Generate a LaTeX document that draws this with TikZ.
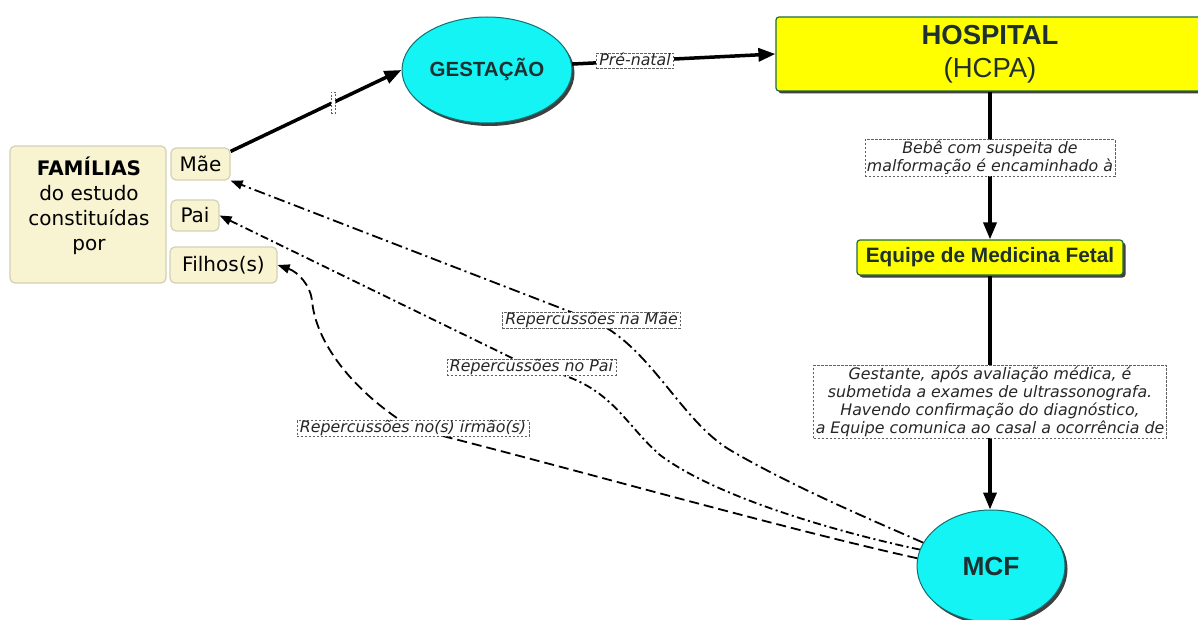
\documentclass[tikz,border=0pt]{standalone}
\usepackage{fontspec}
\setmainfont{DejaVu Sans}
\newfontfamily\arialf{Liberation Sans}
\usetikzlibrary{arrows.meta,shapes.geometric,shadows}
\definecolor{cream}{HTML}{F8F4D2}
\definecolor{creamline}{HTML}{D4D0B4}
\definecolor{cyanfill}{HTML}{14F4F4}
\definecolor{tealline}{HTML}{127070}
\definecolor{yel}{HTML}{FFFF00}
\definecolor{greenline}{HTML}{1F6B3F}
\definecolor{darktxt}{HTML}{1E3030}
\definecolor{lblline}{HTML}{606060}
\tikzset{
  famnode/.style={rectangle, draw=creamline, fill=cream, rounded corners=5pt, line width=1.2pt, inner sep=0pt},
  famtxt/.style={font=\fontsize{20}{25}\selectfont, align=center, inner sep=0pt},
  member/.style={famnode, font=\fontsize{20}{24}\selectfont, text=black},
  ovalnode/.style={ellipse, draw=tealline, fill=cyanfill, line width=1pt, inner sep=0pt, text=darktxt,
     drop shadow={shadow xshift=2.5pt, shadow yshift=-3pt, fill=black!75, opacity=1}},
  yelbox/.style={rectangle, rounded corners=3pt, draw=greenline, fill=yel, line width=1.2pt, inner sep=0pt, text=darktxt,
     drop shadow={shadow xshift=2.5pt, shadow yshift=-2.5pt, fill=black!75, opacity=1}},
  lbl/.style={draw=lblline, dash pattern=on 2.5pt off 1.5pt, fill=white, line width=0.6pt,
     font=\itshape\fontsize{15.8}{18}\selectfont, text=black!85, inner xsep=3pt, inner ysep=0.5pt, text height=11.5pt, text depth=3.2pt},
  lblm/.style={draw=lblline, dash pattern=on 2.5pt off 1.5pt, fill=white, line width=0.6pt,
     font=\itshape\fontsize{15.8}{18}\selectfont, text=black!85, align=center, inner xsep=2pt, inner ysep=1.5pt},
  strong/.style={line width=3.5pt, -{Triangle[length=17pt,width=13pt]}},
  rep/.style={line width=1.8pt, -{Triangle[length=12pt,width=9pt]}},
  dashdotA/.style={dash pattern=on 11pt off 4pt on 2pt off 4pt},
  dashdotB/.style={dash pattern=on 8pt off 3.5pt on 2pt off 3.5pt},
  dashedC/.style={dash pattern=on 10pt off 5pt}
}
\begin{document}
\begin{tikzpicture}[x=1pt,y=-1pt]
\useasboundingbox (0,0) rectangle (1198,620);
\clip (0,0) rectangle (1198,620);
\fill[white] (0,0) rectangle (1198,620);

% family boxes
\node[famnode, minimum width=156pt, minimum height=137pt] (fam) at (88,214.5) {};
\node[famtxt] (famt) at (89,206) {\textbf{FAMÍLIAS}\\do estudo\\constituídas\\por};
\node[member, minimum width=59pt, minimum height=32pt] (mae) at (200.5,164) {Mãe};
\node[member, minimum width=48pt, minimum height=31pt] (pai) at (195,215.5) {Pai};
\node[member, minimum width=107pt, minimum height=36pt] (filhos) at (223.5,265) {Filhos(s)};

% main nodes
\node[ovalnode, minimum width=170pt, minimum height=106pt, font=\arialf\bfseries\fontsize{20.5}{24}\selectfont] (gest) at (487,70) {GESTAÇÃO};
\node[yelbox, minimum width=428pt, minimum height=74pt, align=center, font=\arialf\fontsize{27.5}{33}\selectfont] (hosp) at (990,54) {\textbf{HOSPITAL}\\(HCPA)};
\node[yelbox, minimum width=266pt, minimum height=35pt, font=\arialf\bfseries\fontsize{20.8}{24}\selectfont] (eq) at (990,257.5) {Equipe de Medicina Fetal};
\node[ovalnode, minimum width=148pt, minimum height=112pt, font=\arialf\bfseries\fontsize{26.3}{30}\selectfont] (mcf) at (991,566) {MCF};

% main connectors
\draw[strong] ([yshift=-4pt]mae.north east) -- node[pos=0.6, draw=lblline, dash pattern=on 2pt off 1.5pt, line width=0.6pt, fill=white, inner sep=0pt, minimum width=4pt, minimum height=21pt] (blank) {} (gest.west);
\draw[strong] (gest.4) -- node[lbl, pos=0.31] (prenatal) {Pré-natal} (hosp.west);
\draw[strong] (hosp.south -| eq.north) -- node[lblm, pos=0.45] (bebe) {Bebê com suspeita de\\malformação é encaminhado à} (eq.north);
\draw[strong] (eq.south) -- node[lblm, pos=0.54] (gestante) {Gestante, após avaliação médica, é\\submetida a exames de ultrassonografa.\\Havendo confirmação do diagnóstico,\\a Equipe comunica ao casal a ocorrência de} (eq.south |- mcf.north);

% repercussion curves
\coordinate (lm) at (591.5,320);
\coordinate (lp) at (531.5,367.5);
\coordinate (lf) at (413,428.5);
\draw[rep, dashdotA] (mcf.161) .. controls (860,515) and (790,485) .. (730,450) .. controls (680,420) and (650,345) .. (lm) -- (mae.south east);
\draw[rep, dashdotB] (mcf.167) .. controls (850,535) and (720,500) .. (660,455) .. controls (620,420) and (610,380) .. (lp) -- (pai.east);
\draw[rep, dashedC] (mcf.174) .. controls (780,528) and (560,465) .. (lf) .. controls (350,390) and (315,340) .. (312,300) .. controls (310,285) and (298,272) .. (filhos.east);
\node[lbl] (lblmae) at (lm) {Repercussões na Mãe};
\node[lbl] (lblpai) at (lp) {Repercussões no Pai};
\node[lbl] (lblfil) at (lf) {Repercussões no(s) irmão(s)};
\end{tikzpicture}
\end{document}
